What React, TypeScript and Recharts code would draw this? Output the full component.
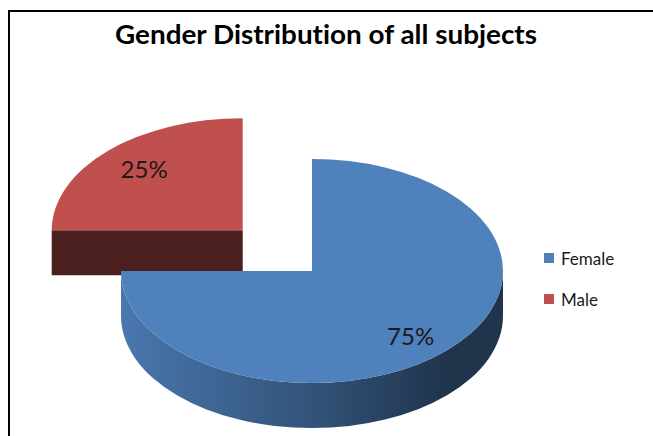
import { PieChart, Pie, Cell } from "recharts";

// chart values
const categories = ["Female", "Male"];
const shares = [75, 25];
const colors = ["#4F81BD", "#C0504D"];
const explodedSlice = "Male";

const data = categories.map((name, i) => ({ name, value: shares[i] }));

// 3d look
const CX = 312;
const CY = 271;
const RADIUS = 191;
const TILT = 0.587;
const DEPTH = 45;
const EXPLODE = 98;
const RAD = Math.PI / 180;

const shade = (hex: string, f: number) => {
  const n = parseInt(hex.slice(1), 16);
  const c = [(n >> 16) & 255, (n >> 8) & 255, n & 255].map((v) =>
    Math.round(v * f)
  );
  return `rgb(${c[0]},${c[1]},${c[2]})`;
};

const pt = (cx: number, cy: number, r: number, angle: number) => ({
  x: cx + r * Math.cos(-angle * RAD),
  y: cy + r * TILT * Math.sin(-angle * RAD),
});

// move the exploded slice out along its middle angle
const sliceCenter = (p: any) => {
  const name = p.name ?? p.payload?.name;
  if (name !== explodedSlice) return { x: p.cx, y: p.cy };
  return pt(p.cx, p.cy, EXPLODE, p.midAngle);
};

const SideFaces = (p: any) => {
  const { x: cx, y: cy } = sliceCenter(p);
  const r = p.outerRadius;
  const ry = r * TILT;
  const id = `wall-${(p.name ?? p.payload?.name) || "x"}`;
  const out: any[] = [];

  // outer wall, front half only
  const hi = Math.min(p.startAngle, 0);
  const lo = Math.max(p.endAngle, -180);
  if (hi > lo) {
    const a = pt(cx, cy, r, hi);
    const b = pt(cx, cy, r, lo);
    out.push(
      <path
        key="wall"
        d={`M${a.x},${a.y}A${r},${ry} 0 0 1 ${b.x},${b.y}L${b.x},${b.y + DEPTH}A${r},${ry} 0 0 0 ${a.x},${a.y + DEPTH}Z`}
        fill={`url(#${id})`}
      />
    );
  }

  // radial faces that face the viewer
  const face = (angle: number, key: string) => {
    const e = pt(cx, cy, r, angle);
    out.push(
      <path
        key={key}
        d={`M${cx},${cy}L${e.x},${e.y}L${e.x},${e.y + DEPTH}L${cx},${cy + DEPTH}Z`}
        fill={shade(p.fill, 0.39)}
      />
    );
  };
  if (Math.cos(p.startAngle * RAD) < -1e-6) face(p.startAngle, "start");
  if (Math.cos(p.endAngle * RAD) > 1e-6) face(p.endAngle, "end");

  return (
    <g>
      <defs>
        <linearGradient
          id={id}
          gradientUnits="userSpaceOnUse"
          x1={cx - r}
          x2={cx + r}
          y1={0}
          y2={0}
        >
          <stop offset="0" stopColor={shade(p.fill, 0.92)} />
          <stop offset="0.5" stopColor={shade(p.fill, 0.64)} />
          <stop offset="0.85" stopColor={shade(p.fill, 0.4)} />
          <stop offset="1" stopColor={shade(p.fill, 0.4)} />
        </linearGradient>
      </defs>
      {out}
    </g>
  );
};

const TopFace = (p: any) => {
  const { x: cx, y: cy } = sliceCenter(p);
  const r = p.outerRadius;
  const s = pt(cx, cy, r, p.startAngle);
  const e = pt(cx, cy, r, p.endAngle);
  const large = Math.abs(p.startAngle - p.endAngle) > 180 ? 1 : 0;
  return (
    <path
      d={`M${cx},${cy}L${s.x},${s.y}A${r},${r * TILT} 0 ${large} 1 ${e.x},${e.y}Z`}
      fill={p.fill}
    />
  );
};

const renderLabel = (p: any) => {
  const { x, y } = sliceCenter(p);
  const r = p.outerRadius;
  const lx = x + Math.cos(-p.midAngle * RAD) * r * 0.73;
  const ly = y + Math.sin(-p.midAngle * RAD) * r * TILT * 0.8 + 11;
  return (
    <text
      x={lx}
      y={ly}
      textAnchor="middle"
      fontFamily="Lato, sans-serif"
      fontSize={24}
      fill="#1a1a1a"
    >
      {`${Math.round(p.percent * 100)}%`}
    </text>
  );
};

export default function App() {
  return (
    <div
      style={{
        position: "absolute",
        left: 0,
        top: 0,
        width: 653,
        height: 436,
        overflow: "hidden",
        background: "#fff",
      }}
    >
      <div
        style={{
          position: "absolute",
          left: 8,
          top: 10,
          width: 700,
          height: 500,
          borderLeft: "2px solid #000",
          borderTop: "2px solid #000",
        }}
      />
      <svg
        width={653}
        height={60}
        style={{ position: "absolute", left: 0, top: 0 }}
      >
        <text
          x={326}
          y={44}
          textAnchor="middle"
          textLength={422}
          lengthAdjust="spacingAndGlyphs"
          fontFamily="Lato, sans-serif"
          fontWeight={700}
          fontSize={27}
          fill="#000"
          style={{ fontVariantLigatures: "none" }}
        >
          Gender Distribution of all subjects
        </text>
      </svg>
      <div style={{ position: "absolute", left: 0, top: 0 }}>
        <PieChart
          width={653}
          height={436}
          margin={{ top: 0, right: 0, bottom: 0, left: 0 }}
        >
          <Pie
            data={data}
            dataKey="value"
            nameKey="name"
            cx={CX}
            cy={CY}
            outerRadius={RADIUS}
            startAngle={90}
            endAngle={-270}
            stroke="none"
            legendType="none"
            isAnimationActive={false}
            shape={SideFaces}
            activeShape={SideFaces}
            inactiveShape={SideFaces}
          >
            {data.map((d, i) => (
              <Cell key={d.name} fill={colors[i]} />
            ))}
          </Pie>
          <Pie
            data={data}
            dataKey="value"
            nameKey="name"
            cx={CX}
            cy={CY}
            outerRadius={RADIUS}
            startAngle={90}
            endAngle={-270}
            stroke="none"
            isAnimationActive={false}
            shape={TopFace}
            activeShape={TopFace}
            inactiveShape={TopFace}
            label={renderLabel}
            labelLine={false}
          >
            {data.map((d, i) => (
              <Cell key={d.name} fill={colors[i]} />
            ))}
          </Pie>
        </PieChart>
      </div>
      {/* legend */}
      <div
        style={{
          position: "absolute",
          left: 544,
          top: 247,
          fontFamily: "Lato, sans-serif",
          fontSize: 17,
          color: "#1a1a1a",
        }}
      >
        {categories.map((name, i) => (
          <div
            key={name}
            style={{
              display: "flex",
              alignItems: "center",
              height: 22,
              marginBottom: i === 0 ? 19 : 0,
            }}
          >
            <span
              style={{
                display: "inline-block",
                width: 10,
                height: 10,
                background: colors[i],
                marginRight: 7,
              }}
            />
            {name}
          </div>
        ))}
      </div>
    </div>
  );
}
